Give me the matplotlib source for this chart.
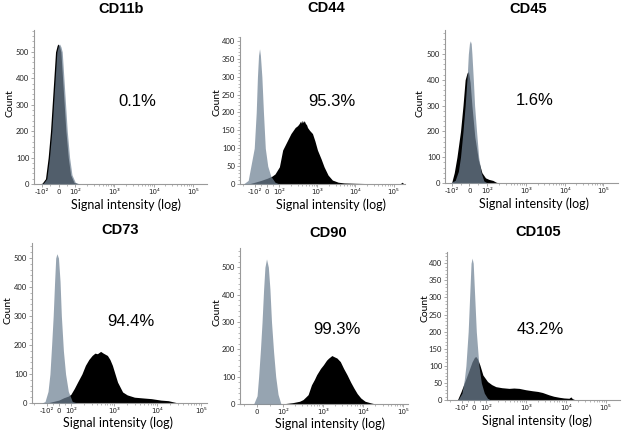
import matplotlib
matplotlib.use("Agg")
import matplotlib.pyplot as plt

W, H = 623, 433

# ---------------- data (signal intensity, count) ----------------
titles = ["CD11b", "CD44", "CD45", "CD73", "CD90", "CD105"]
percents = ["0.1%", "95.3%", "1.6%", "94.4%", "99.3%", "43.2%"]

cd11b_iso_x = [-110, -90, -70, -54, -40, -30, -20, -10, 0, 6, 14, 22, 32, 42, 52, 66, 80, 100, 130]
cd11b_iso_y = [0, 3, 20, 100, 200, 300, 400, 500, 525, 530, 520, 500, 400, 300, 200, 100, 35, 6, 0]
cd11b_pos_x = [-118, -98, -78, -62, -48, -38, -28, -18, -8, -2, 6, 14, 24, 34, 44, 58, 72, 92, 122]
cd11b_pos_y = [0, 3, 20, 100, 200, 300, 400, 500, 525, 530, 520, 500, 400, 300, 200, 100, 35, 6, 0]

cd44_iso_x = [-200, -150, -104, -89, -79, -70, -62, -55, -43, -30, -15, 5, 30, 64, 100]
cd44_iso_y = [0, 10, 100, 200, 300, 360, 378, 360, 300, 200, 100, 50, 22, 5, 0]
cd44_pos_x = [-150, -100, -50, 0, 40, 64, 100, 122, 160, 201, 260, 300, 332, 360, 380, 400,
              423, 450, 480, 520, 548, 620, 740, 860, 1000, 1250, 1493, 1900, 2470, 3500,
              5000, 10000, 25000, 60000, 150000, 170000, 185000]
cd44_pos_y = [0, 5, 10, 16, 22, 28, 48, 95, 120, 141, 158, 163, 169, 176, 170, 178,
              172, 177, 170, 165, 158, 150, 141, 120, 95, 70, 48, 25, 11, 5,
              3, 2, 1, 1, 1, 5, 0]

cd45_iso_x = [-110, -80, -62, -50, -36, -24, -12, -6, 0, 5, 10, 14, 22, 29, 40, 52, 66, 81, 100]
cd45_iso_y = [0, 10, 45, 100, 200, 300, 420, 500, 540, 551, 540, 500, 400, 300, 200, 100, 40, 8, 0]
cd45_pos_x = [-100, -85, -70, -60, -50, -36, -24, -14, -8, -4, 4, 14, 30, 50, 70, 90, 110, 140, 170, 200]
cd45_pos_y = [0, 40, 100, 150, 200, 300, 400, 425, 432, 425, 390, 300, 180, 90, 40, 20, 14, 10, 3, 0]

cd73_iso_x = [-130, -110, -90, -74, -60, -47, -35, -26, -16, -3, 10, 21, 38, 56, 79, 108, 140]
cd73_iso_y = [0, 5, 40, 100, 200, 300, 420, 500, 515, 500, 420, 300, 180, 100, 40, 5, 0]
cd73_pos_x = [-100, -50, 0, 40, 80, 100, 120, 143, 180, 217, 260, 310, 360, 410, 487, 560,
              699, 800, 911, 1050, 1200, 1570, 2000, 2950, 5000, 7250, 12000, 17800, 30000]
cd73_pos_y = [0, 5, 10, 18, 24, 30, 50, 72, 100, 130, 150, 164, 172, 170, 178, 172,
              164, 150, 130, 100, 72, 38, 28, 20, 17, 15, 10, 8, 0]

cd90_iso_x = [-13, 0, 6, 13, 19, 25, 30, 36, 43, 49, 55, 63, 71, 80, 91]
cd90_iso_y = [0, 30, 100, 200, 300, 420, 500, 530, 500, 420, 300, 190, 100, 35, 0]
cd90_pos_x = [100, 117, 173, 255, 310, 360, 416, 505, 600, 680, 850, 1000, 1200, 1340, 1630,
              1900, 2180, 2650, 3200, 3900, 4800, 5800, 7000, 8600, 11000, 15400, 20000]
cd90_pos_y = [0, 2, 5, 10, 16, 25, 34, 70, 90, 107, 130, 143, 160, 167, 177,
              172, 168, 155, 130, 107, 80, 58, 38, 22, 10, 4, 0]

cd105_iso_x = [-126, -100, -80, -67, -48, -36, -24, -15, -6, 7, 20, 42, 62, 87, 110, 130]
cd105_iso_y = [0, 20, 60, 100, 200, 300, 400, 415, 400, 300, 200, 100, 50, 20, 5, 0]
cd105_pos_x = [-130, -106, -76, -45, -15, 5, 17, 30, 50, 75, 110, 140, 178, 250, 383, 500,
               681, 1000, 1468, 2000, 2610, 3830, 5000, 6810, 9000, 12100, 13500, 14700, 17800]
cd105_pos_y = [0, 24, 54, 83, 112, 125, 127, 120, 102, 73, 54, 45, 39, 36, 34, 35,
               34, 30, 27, 25, 22, 15, 11, 8, 6, 5, 9, 4, 0]

iso_x = [cd11b_iso_x, cd44_iso_x, cd45_iso_x, cd73_iso_x, cd90_iso_x, cd105_iso_x]
iso_y = [cd11b_iso_y, cd44_iso_y, cd45_iso_y, cd73_iso_y, cd90_iso_y, cd105_iso_y]
pos_x = [cd11b_pos_x, cd44_pos_x, cd45_pos_x, cd73_pos_x, cd90_pos_x, cd105_pos_x]
pos_y = [cd11b_pos_y, cd44_pos_y, cd45_pos_y, cd73_pos_y, cd90_pos_y, cd105_pos_y]

x_ticks_full = [-100, 0, 100, 1000, 10000, 100000]
x_labels_full = ["-10²", "0", "10²", "10³", "10⁴", "10⁵"]
y_ticks_500 = [0, 100, 200, 300, 400, 500]
y_ticks_400 = [0, 50, 100, 150, 200, 250, 300, 350, 400]

# ---------------- layout ----------------
# (left, right, top, bottom) in px
boxes = [(34, 207, 30, 184), (240, 405, 37, 184), (445, 618, 30, 183),
         (32, 207, 243, 403), (240, 408, 248, 404), (447, 620, 252, 400)]
ymax = [583, 411, 593, 552, 570, 433]
xlims = [(-158, 2.3e5), (-246, 2.0e5), (-148, 2.4e5), (-220, 1.4e5), (-65, 1.3e5), (-237, 2.3e5)]
linscales = [0.385, 0.29, 0.415, 0.25, 0.59, 0.27]
yticks = [y_ticks_500, y_ticks_400, y_ticks_500, y_ticks_500, y_ticks_500, y_ticks_400]
yminor = [20, 10, 20, 20, 20, 10]
title_pos = [(121, 9), (326, 8), (528, 9), (120, 230), (328, 233), (538, 232)]
pct_pos = [(137, 102), (332, 102), (535, 101), (131, 322), (337, 330), (540, 330)]
count_pos = [(10, 103), (217, 102), (420, 103), (8, 310), (217, 312), (425, 308)]
xlab_top = [198, 198, 197, 416, 417, 414]
xlab_x = [126, 331, 534, 118, 330, 537]

gray = "#708294"
spine_c = "#9a9a9a"

fig = plt.figure(figsize=(W / 100, H / 100), dpi=100)

for i in range(6):
    l, r, t, b = boxes[i]
    ax = fig.add_axes([l / W, 1 - b / H, (r - l) / W, (b - t) / H])
    ax.set_xscale("symlog", linthresh=100, linscale=linscales[i])
    ax.fill_between(pos_x[i], pos_y[i], 0, color="black", lw=0, zorder=2)
    ax.fill_between(iso_x[i], iso_y[i], 0, color=gray, alpha=0.73, lw=0, zorder=3)
    ax.set_xlim(*xlims[i])
    ax.set_ylim(0, ymax[i])
    for s in ["top", "right"]:
        ax.spines[s].set_visible(False)
    for s in ["left", "bottom"]:
        ax.spines[s].set_color(spine_c)
        ax.spines[s].set_linewidth(0.8)
    if i == 4:
        xt = x_ticks_full[1:]
        xl = x_labels_full[1:]
    else:
        xt = x_ticks_full
        xl = x_labels_full
    ax.set_xticks(xt, xl)
    minors = []
    for dec in [100, 1000, 10000]:
        minors += [k * dec for k in range(2, 10)]
    minors += [-50, 50]
    if i != 4:
        minors += [-200]
    ax.set_xticks([m for m in minors if xlims[i][0] < m < xlims[i][1]], minor=True)
    ax.set_yticks(yticks[i])
    ax.yaxis.set_minor_locator(matplotlib.ticker.MultipleLocator(yminor[i]))
    ax.tick_params(axis="both", which="major", length=2.5, width=0.6, color=spine_c,
                   labelcolor="#222222", pad=1.0)
    ax.tick_params(axis="both", which="minor", length=1.5, width=0.5, color=spine_c)
    for lab in ax.get_xticklabels():
        lab.set_fontfamily("DejaVu Sans")
        lab.set_fontsize(5)
    for lab in ax.get_yticklabels():
        lab.set_fontfamily("Lato")
        lab.set_fontsize(5.5)

    tx, ty = title_pos[i]
    fig.text(tx / W, 1 - ty / H, titles[i], ha="center", va="center",
             fontsize=10.5, fontweight="bold", family="Liberation Sans")
    px, py = pct_pos[i]
    fig.text(px / W, 1 - py / H, percents[i], ha="center", va="center",
             fontsize=12, family="Liberation Sans")
    cx, cy = count_pos[i]
    fig.text(cx / W, 1 - cy / H, "Count", ha="center", va="center", rotation=90,
             fontsize=7.5, family="Lato")
    fig.text(xlab_x[i] / W, 1 - xlab_top[i] / H, "Signal intensity (log)", ha="center",
             va="top", fontsize=9, family="Lato")

fig.savefig("out.png", dpi=100)
